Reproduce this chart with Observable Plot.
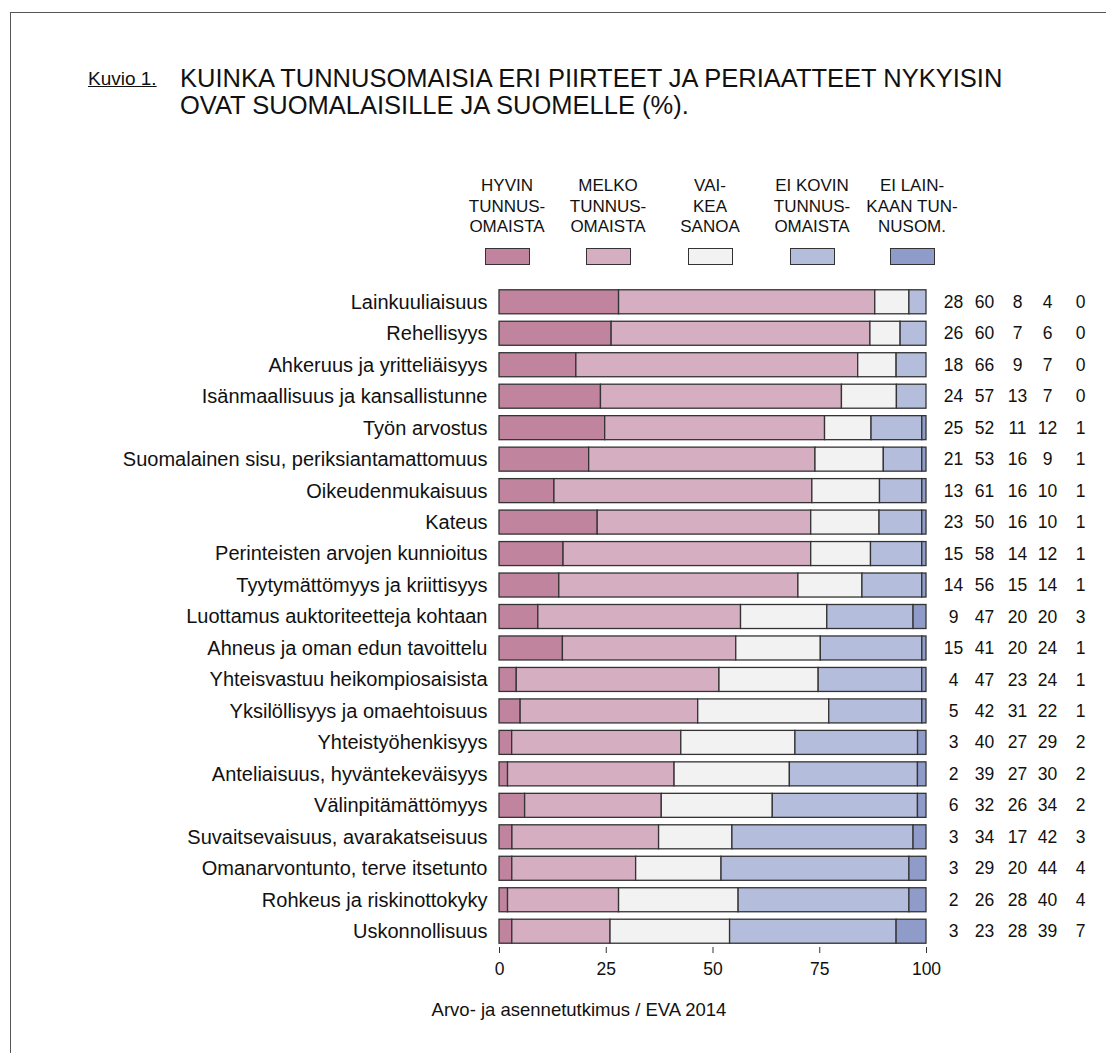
<!DOCTYPE html>
<html>
<head>
<meta charset="utf-8">
<script src="https://cdn.jsdelivr.net/npm/d3@7"></script>
<script src="https://cdn.jsdelivr.net/npm/@observablehq/plot@0.6"></script>
<style>
  html, body { margin: 0; padding: 0; background: #fff; }
  body { width: 1106px; height: 1053px; position: relative; overflow: hidden; font-family: "Liberation Sans", Arial, sans-serif; color: #111; }
  #frame { position: absolute; left: 10px; top: 12px; width: 1200px; height: 1200px; border-left: 1px solid #555; border-top: 1px solid #555; }
  #kuvio { position: absolute; left: 88px; top: 68px; font-size: 19px; text-decoration: underline; }
  #title { position: absolute; left: 180px; top: 65px; font-size: 25.5px; line-height: 27px; }
  .leg { position: absolute; top: 176px; width: 100px; text-align: center; font-size: 17px; line-height: 20.5px; }
  .sw { position: absolute; top: 248px; width: 43px; height: 15px; border: 1px solid #333; }
  #plot { position: absolute; left: 0; top: 270px; }
  #caption { position: absolute; left: 0; width: 1158px; text-align: center; top: 999px; font-size: 18.5px; }
</style>
</head>
<body>
<div id="frame"></div>
<div id="kuvio">Kuvio 1.</div>
<div id="title">KUINKA TUNNUSOMAISIA ERI PIIRTEET JA PERIAATTEET NYKYISIN<br>OVAT SUOMALAISILLE JA SUOMELLE (%).</div>
<div id="legend"></div>
<div id="plot"></div>
<div id="caption">Arvo- ja asennetutkimus / EVA 2014</div>
<script>
const items = [
  "Lainkuuliaisuus",
  "Rehellisyys",
  "Ahkeruus ja yritteliäisyys",
  "Isänmaallisuus ja kansallistunne",
  "Työn arvostus",
  "Suomalainen sisu, periksiantamattomuus",
  "Oikeudenmukaisuus",
  "Kateus",
  "Perinteisten arvojen kunnioitus",
  "Tyytymättömyys ja kriittisyys",
  "Luottamus auktoriteetteja kohtaan",
  "Ahneus ja oman edun tavoittelu",
  "Yhteisvastuu heikompiosaisista",
  "Yksilöllisyys ja omaehtoisuus",
  "Yhteistyöhenkisyys",
  "Anteliaisuus, hyväntekeväisyys",
  "Välinpitämättömyys",
  "Suvaitsevaisuus, avarakatseisuus",
  "Omanarvontunto, terve itsetunto",
  "Rohkeus ja riskinottokyky",
  "Uskonnollisuus"
];
const hyvin      = [28, 26, 18, 24, 25, 21, 13, 23, 15, 14,  9, 15,  4,  5,  3,  2,  6,  3,  3,  2,  3];
const melko      = [60, 60, 66, 57, 52, 53, 61, 50, 58, 56, 47, 41, 47, 42, 40, 39, 32, 34, 29, 26, 23];
const vaikea     = [ 8,  7,  9, 13, 11, 16, 16, 16, 14, 15, 20, 20, 23, 31, 27, 27, 26, 17, 20, 28, 28];
const eiKovin    = [ 4,  6,  7,  7, 12,  9, 10, 10, 12, 14, 20, 24, 24, 22, 29, 30, 34, 42, 44, 40, 39];
const eiLainkaan = [ 0,  0,  0,  0,  1,  1,  1,  1,  1,  1,  3,  1,  1,  1,  2,  2,  2,  3,  4,  4,  7];

const categories = ["HYVIN TUNNUSOMAISTA", "MELKO TUNNUSOMAISTA", "VAIKEA SANOA", "EI KOVIN TUNNUSOMAISTA", "EI LAINKAAN TUNNUSOM."];
const legendLines = [
  ["HYVIN", "TUNNUS-", "OMAISTA"],
  ["MELKO", "TUNNUS-", "OMAISTA"],
  ["VAI-", "KEA", "SANOA"],
  ["EI KOVIN", "TUNNUS-", "OMAISTA"],
  ["EI LAIN-", "KAAN TUN-", "NUSOM."]
];
const colors = ["#c0849f", "#d6aec2", "#f2f2f2", "#b5bddc", "#8f9bc8"];
const xTicks = [0, 25, 50, 75, 100];
const series = [hyvin, melko, vaikea, eiKovin, eiLainkaan];

// legend (HTML)
const legendCenters = [507, 608, 710, 812, 912];
const legend = document.getElementById("legend");
legendLines.forEach((lines, i) => {
  const t = document.createElement("div");
  t.className = "leg";
  t.style.left = (legendCenters[i] - 50) + "px";
  t.innerHTML = lines.join("<br>");
  legend.appendChild(t);
  const s = document.createElement("div");
  s.className = "sw";
  s.style.left = (legendCenters[i] - 22.5) + "px";
  s.style.background = colors[i];
  legend.appendChild(s);
});

// long table
const table = [];
items.forEach((item, r) => {
  const total = d3.sum(series, s => s[r]);
  series.forEach((s, c) => {
    table.push({item, cat: categories[c], ci: c, value: s[r], share: s[r] / total * 100});
  });
});

const colOffsets = [27, 58, 91, 121, 154];
const numberMarks = series.map((s, c) =>
  Plot.text(items.map((item, r) => ({item, v: s[r]})), {
    x: () => 100, y: "item", text: d => String(d.v),
    dx: colOffsets[c], textAnchor: "middle", fontSize: 17.5, fill: "#111"
  })
);

const chart = Plot.plot({
  width: 1106,
  height: 717,
  marginLeft: 499,
  marginRight: 180,
  marginTop: 16,
  marginBottom: 40,
  style: {fontFamily: "'Liberation Sans', Arial, sans-serif", background: "transparent", color: "#111"},
  x: {domain: [0, 100], ticks: xTicks, tickSize: 6, tickPadding: 9, label: null},
  y: {domain: items, paddingInner: 0.237, paddingOuter: 0.12, round: false, label: null, tickSize: 0, tickPadding: 12},
  color: {domain: categories, range: colors},
  marks: [
    Plot.barX(table, Plot.stackX({
      y: "item", x: "share", fill: "cat", order: "ci",
      stroke: "#333", strokeWidth: 1.3
    })),
    ...numberMarks,
    Plot.axisX({ticks: xTicks, tickSize: 6, tickPadding: 9, fontSize: 17.5, label: null, stroke: "#333"}),
    Plot.axisY({tickSize: 0, tickPadding: 12, fontSize: 20, label: null})
  ]
});
document.getElementById("plot").appendChild(chart);
</script>
</body>
</html>
